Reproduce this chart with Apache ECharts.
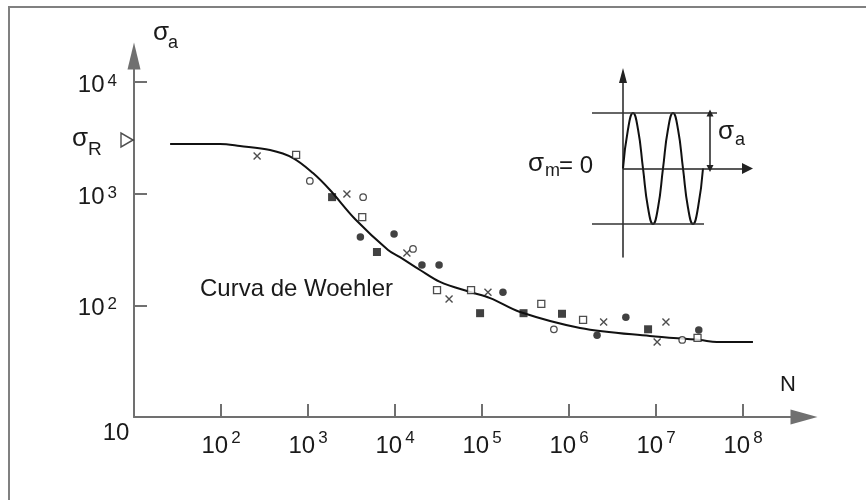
<!DOCTYPE html>
<html>
<head>
<meta charset="utf-8">
<script src="https://cdn.jsdelivr.net/npm/echarts@6/dist/echarts.min.js"></script>
<style>
  html, body { margin: 0; padding: 0; background: #fff; }
  #chart { width: 866px; height: 500px; }
</style>
</head>
<body>
<div id="chart"></div>
<script>
// Woehler curve, log N vs log sigma_a
var nTicks = [1e2, 1e3, 1e4, 1e5, 1e6, 1e7, 1e8];
var nLabels = [10, 1e2, 1e3, 1e4, 1e5, 1e6, 1e7, 1e8];
var sTicks = [1e2, 1e3, 1e4];

var curveN = [26, 97.5, 165, 366, 673, 1140, 1790, 3467, 8320, 11400, 19400, 32900, 72800, 124000, 274000, 1.34e6, 8.5e6, 3.2e7, 5.0e7, 1.3e8];
var curveS = [2780, 2780, 2667, 2455, 2083, 1528, 1077, 593, 313, 270, 207, 162, 131.5, 116, 87, 62.7, 53.1, 48.9, 46.9, 46.9];

var crossPts = [[260, 2170], [2800, 990], [13700, 294], [41800, 114], [117000, 131], [2.5e6, 71], [1.3e7, 71], [1.03e7, 47]];
var openCirclePts = [[1050, 1300], [4300, 930], [16100, 320], [6.7e5, 61], [2.0e7, 49]];
var openSquarePts = [[730, 2220], [4200, 617], [30400, 137], [74800, 137], [4.8e5, 103], [1.45e6, 74], [3.0e7, 51]];
var dotPts = [[4000, 408], [9750, 435], [20400, 230], [32100, 230], [1.74e5, 131], [2.1e6, 54], [4.5e6, 78], [3.1e7, 60]];
var blockPts = [[1890, 930], [6200, 300], [95000, 85], [3.0e5, 85], [8.3e5, 84], [8.1e6, 61]];
var sigmaR = 3020;

// inset: sigma_m = 0 cycle (two periods, t in periods, y in units of sigma_a)
var waveT = [0, 0.125, 0.25, 0.375, 0.5, 0.625, 0.75, 0.875, 1, 1.125, 1.25, 1.375, 1.5, 1.625, 1.75, 1.875, 2];
var waveY = [0, 0.707, 1, 0.707, 0, -0.707, -1, -0.707, 0, 0.707, 1, 0.707, 0, -0.707, -1, -0.707, 0];
var topLevelT = [-0.775, 2.35];
var bottomLevelT = [-0.775, 2.025];
var ampArrowT = 2.175;
var insetTMin = -0.775, insetTMax = 3.1125;

var FONT = '"Liberation Sans", Arial, sans-serif';
var INK = '#1a1a1a';
var AXIS = '#707070';

function zip(a, b) {
    return a.map(function (v, i) { return [v, b[i]]; });
}
function expOf(v) {
    return Math.round(Math.log(v) / Math.LN10);
}

var myChart = echarts.init(document.getElementById('chart'));

var option = {
    animation: false,
    backgroundColor: '#fff',
    textStyle: { fontFamily: FONT },
    grid: [
        { left: 134, top: 56, width: 670, height: 361 },
        { left: 592, top: 75.5, width: 155.5, height: 181.5 }
    ],
    xAxis: [
        {
            type: 'log', logBase: 10, gridIndex: 0,
            min: 10, max: 5.02e8,
            axisLine: {
                onZero: false,
                symbol: ['none', 'triangle'], symbolSize: [15, 27],
                lineStyle: { color: AXIS, width: 2 }
            },
            axisTick: { customValues: nTicks, inside: true, length: 13, lineStyle: { color: AXIS, width: 2 } },
            axisLabel: {
                customValues: nLabels, margin: 13,
                formatter: function (v) {
                    var e = expOf(v);
                    return e === 1 ? '{o|10}' : '{b|10}{s|' + e + '}';
                },
                rich: {
                    b: { fontSize: 24, lineHeight: 32, color: INK, fontFamily: FONT },
                    s: { fontSize: 17, lineHeight: 16, verticalAlign: 'top', padding: [0, 0, 0, 3], color: INK, fontFamily: FONT },
                    o: { fontSize: 24, lineHeight: 7, padding: [0, 36, 0, 0], color: INK, fontFamily: FONT }
                }
            },
            splitLine: { show: false }
        },
        {
            type: 'value', gridIndex: 1, min: insetTMin, max: insetTMax,
            axisLine: { show: false },
            axisTick: { show: false },
            axisLabel: { show: false },
            splitLine: { show: false }
        }
    ],
    yAxis: [
        {
            type: 'log', logBase: 10, gridIndex: 0,
            min: 10, max: 17060,
            axisLine: {
                onZero: false,
                symbol: ['none', 'triangle'], symbolSize: [13, 27],
                lineStyle: { color: AXIS, width: 2 }
            },
            axisTick: { customValues: sTicks, inside: true, length: 13, lineStyle: { color: AXIS, width: 2 } },
            axisLabel: {
                customValues: sTicks, margin: 17,
                formatter: function (v) {
                    return '{b|10}{s|' + expOf(v) + '}';
                },
                rich: {
                    b: { fontSize: 24, lineHeight: 32, padding: [7, 0, 0, 0], color: INK, fontFamily: FONT },
                    s: { fontSize: 17, lineHeight: 16, verticalAlign: 'top', padding: [7, 0, 0, 3], color: INK, fontFamily: FONT }
                }
            },
            splitLine: { show: false }
        },
        {
            type: 'value', gridIndex: 1, min: -1.595, max: 1.676,
            axisLine: {
                onZero: true,
                symbol: ['none', 'triangle'], symbolSize: [8, 15],
                lineStyle: { color: '#222', width: 1.5 }
            },
            axisTick: { show: false },
            axisLabel: { show: false },
            splitLine: { show: false }
        }
    ],
    series: [
        {
            name: 'Woehler', type: 'line', xAxisIndex: 0, yAxisIndex: 0,
            data: zip(curveN, curveS), smooth: 0.35, symbol: 'none',
            lineStyle: { color: '#111', width: 2 }, z: 3
        },
        {
            type: 'scatter', data: crossPts, symbol: 'path://M0,0L10,10M10,0L0,10', symbolSize: 7,
            itemStyle: { color: 'transparent', borderColor: '#222', borderWidth: 1.4 }, z: 4
        },
        {
            type: 'scatter', data: openCirclePts, symbol: 'circle', symbolSize: 6.5,
            itemStyle: { color: '#fff', borderColor: '#222', borderWidth: 1.3 }, z: 4
        },
        {
            type: 'scatter', data: openSquarePts, symbol: 'rect', symbolSize: 7,
            itemStyle: { color: '#fff', borderColor: '#222', borderWidth: 1.3 }, z: 4
        },
        {
            type: 'scatter', data: dotPts, symbol: 'circle', symbolSize: 7.5,
            itemStyle: { color: '#111' }, z: 4
        },
        {
            type: 'scatter', data: blockPts, symbol: 'rect', symbolSize: 8,
            itemStyle: { color: '#111' }, z: 4
        },
        {
            type: 'scatter', data: [[10, sigmaR]], symbol: 'triangle', symbolSize: [14, 12],
            symbolRotate: -90, symbolOffset: [-7, 0], clip: false,
            itemStyle: { color: '#fff', borderColor: '#222', borderWidth: 1.5 }, z: 5
        },
        // inset
        {
            type: 'line', xAxisIndex: 1, yAxisIndex: 1,
            data: zip(waveT, waveY), smooth: true, symbol: 'none',
            lineStyle: { color: '#111', width: 2 },
            markLine: {
                silent: true, symbol: ['none', 'triangle'], symbolSize: 11,
                label: { show: false },
                lineStyle: { color: '#222', width: 1.5, type: 'solid' },
                data: [[{ coord: [0, 0] }, { coord: [insetTMax, 0] }]]
            }
        },
        {
            type: 'line', xAxisIndex: 1, yAxisIndex: 1,
            data: [[topLevelT[0], 1], [topLevelT[1], 1]], symbol: 'none',
            lineStyle: { color: '#333', width: 1.5 },
            markLine: {
                silent: true, symbol: ['triangle', 'triangle'], symbolSize: 7,
                label: { show: false },
                lineStyle: { color: '#222', width: 1.5, type: 'solid' },
                data: [[{ coord: [ampArrowT, 0] }, { coord: [ampArrowT, 1] }]]
            }
        },
        {
            type: 'line', xAxisIndex: 1, yAxisIndex: 1,
            data: [[bottomLevelT[0], -1], [bottomLevelT[1], -1]], symbol: 'none',
            lineStyle: { color: '#333', width: 1.5 }
        }
    ],
    graphic: [
        { type: 'rect', shape: { x: 9, y: 7, width: 900, height: 600 }, style: { fill: 'none', stroke: '#808080', lineWidth: 2 }, silent: true },
        { type: 'text', x: 200, y: 289, style: { text: 'Curva de Woehler', font: '24px ' + FONT, fill: INK, verticalAlign: 'middle' } },
        { type: 'text', x: 788, y: 385, style: { text: 'N', font: '22px ' + FONT, fill: INK, align: 'center', verticalAlign: 'middle' } },
        { type: 'text', x: 161, y: 33, style: { text: 'σ', font: '26px ' + FONT, fill: INK, align: 'center', verticalAlign: 'middle' } },
        { type: 'text', x: 168, y: 43, style: { text: 'a', font: '18px ' + FONT, fill: INK, verticalAlign: 'middle' } },
        { type: 'text', x: 80, y: 139, style: { text: 'σ', font: '26px ' + FONT, fill: INK, align: 'center', verticalAlign: 'middle' } },
        { type: 'text', x: 88, y: 150, style: { text: 'R', font: '19px ' + FONT, fill: INK, verticalAlign: 'middle' } },
        { type: 'text', x: 536, y: 164, style: { text: 'σ', font: '26px ' + FONT, fill: INK, align: 'center', verticalAlign: 'middle' } },
        { type: 'text', x: 545, y: 171, style: { text: 'm', font: '18px ' + FONT, fill: INK, verticalAlign: 'middle' } },
        { type: 'text', x: 559, y: 166, style: { text: '= 0', font: '24px ' + FONT, fill: INK, verticalAlign: 'middle' } },
        { type: 'text', x: 726, y: 132, style: { text: 'σ', font: '26px ' + FONT, fill: INK, align: 'center', verticalAlign: 'middle' } },
        { type: 'text', x: 735, y: 140, style: { text: 'a', font: '18px ' + FONT, fill: INK, verticalAlign: 'middle' } }
    ]
};
myChart.setOption(option);
</script>
</body>
</html>
